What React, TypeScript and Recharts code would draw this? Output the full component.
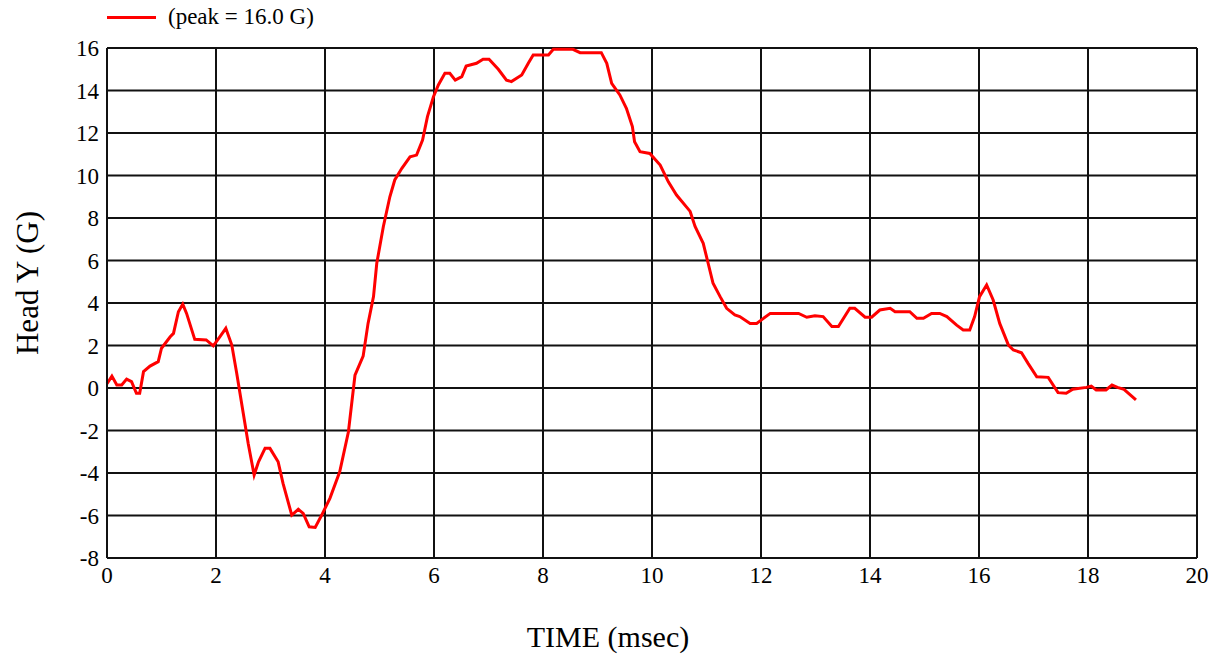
import { LineChart, Line, XAxis, YAxis, CartesianGrid } from "recharts";

const FONT = "'Liberation Serif', 'Times New Roman', serif";

// time (msec)
const timeMs = [
  0, 0.09, 0.18, 0.27, 0.36, 0.45, 0.54, 0.6, 0.67, 0.79, 0.94, 1.0, 1.16, 1.22, 1.31, 1.39, 1.46,
  1.61, 1.82, 1.95, 2.07, 2.18, 2.29, 2.38, 2.5, 2.59, 2.7, 2.78, 2.9, 2.99, 3.14, 3.23, 3.39,
  3.51, 3.6, 3.71, 3.82, 3.94, 4.09, 4.27, 4.43, 4.55, 4.7, 4.79, 4.89, 4.95, 5.07, 5.19, 5.28,
  5.41, 5.56, 5.68, 5.79, 5.88, 5.99, 6.08, 6.2, 6.29, 6.39, 6.51, 6.59, 6.78, 6.9, 7.01, 7.18,
  7.33, 7.42, 7.61, 7.73, 7.82, 8.1, 8.19, 8.55, 8.68, 9.07, 9.17, 9.26, 9.41, 9.53, 9.64, 9.68,
  9.78, 9.96, 10.15, 10.3, 10.45, 10.7, 10.79, 10.94, 11.03, 11.12, 11.25, 11.37, 11.52, 11.61,
  11.8, 11.92, 12.17, 12.69, 12.84, 12.99, 13.14, 13.3, 13.42, 13.63, 13.72, 13.91, 14.03, 14.18,
  14.37, 14.46, 14.73, 14.86, 14.98, 15.13, 15.28, 15.41, 15.59, 15.71, 15.83, 15.92, 16.01,
  16.14, 16.26, 16.38, 16.54, 16.63, 16.78, 16.9, 17.06, 17.27, 17.45, 17.6, 17.72, 17.97, 18.06,
  18.15, 18.33, 18.44, 18.54, 18.66, 18.88,
];

// Head Y acceleration (G)
const headY = [
  0.2, 0.56, 0.14, 0.14, 0.42, 0.3, -0.25, -0.25, 0.77, 1.03, 1.24, 1.87, 2.41, 2.57, 3.59, 3.95, 3.51,
  2.29, 2.26, 1.98, 2.41, 2.81, 2.02, 0.69, -1.19, -2.6, -4.09, -3.47, -2.84, -2.84, -3.47, -4.49, -5.98,
  -5.71, -5.9, -6.53, -6.56, -5.98, -5.19, -3.94, -2.06, 0.6, 1.5, 3.04, 4.3, 5.87, 7.59, 9.0, 9.79,
  10.34, 10.88, 10.96, 11.67, 12.77, 13.71, 14.26, 14.81, 14.81, 14.49, 14.65, 15.15, 15.28, 15.47, 15.47, 15.0,
  14.49, 14.42, 14.73, 15.28, 15.67, 15.67, 15.94, 15.94, 15.78, 15.78, 15.28, 14.34, 13.79, 13.16, 12.3, 11.59,
  11.12, 11.04, 10.49, 9.7, 9.08, 8.31, 7.6, 6.81, 5.87, 4.93, 4.3, 3.75, 3.44, 3.36,
  3.04, 3.04, 3.51, 3.51, 3.33, 3.4, 3.36, 2.89, 2.89, 3.75, 3.75, 3.33, 3.33, 3.67,
  3.75, 3.59, 3.59, 3.28, 3.28, 3.51, 3.51, 3.36, 2.96, 2.73, 2.73, 3.36, 4.3,
  4.85, 4.14, 3.04, 2.02, 1.79, 1.66, 1.16, 0.53, 0.5, -0.22, -0.25, -0.06, 0.03, 0.09,
  -0.09, -0.09, 0.14, 0.03, -0.06, -0.56,
];

const xTicks = [0, 2, 4, 6, 8, 10, 12, 14, 16, 18, 20];
const yTicks = [-8, -6, -4, -2, 0, 2, 4, 6, 8, 10, 12, 14, 16];
const legendText = "(peak = 16.0 G)";

const data = timeMs.map((t, i) => ({ t, y: headY[i] }));

function YTitle(props: any) {
  const vb = props.viewBox;
  const cx = 27;
  const cy = vb.y + vb.height / 2 - 20;
  return (
    <text x={cx} y={cy} transform={`rotate(-90, ${cx}, ${cy})`} textAnchor="middle" dominantBaseline="central"
      fontFamily={FONT} fontSize={31} fill="#000">
      Head Y (G)
    </text>
  );
}

function XTitle() {
  return (
    <text x={608} y={636} textAnchor="middle" dominantBaseline="central" fontFamily={FONT} fontSize={30} fill="#000">
      TIME (msec)
    </text>
  );
}

export default function App() {
  return (
    <div style={{ position: "absolute", left: 0, top: 0, width: 1215, height: 658, background: "#fff" }}>
      {/* legend sits above the plot, outside the chart's own layout */}
      <div style={{ position: "absolute", left: 107, top: 4, display: "flex", alignItems: "center", fontFamily: FONT, fontSize: 23, color: "#000" }}>
        <span style={{ display: "inline-block", width: 49, height: 3, background: "#ff0000", marginRight: 12 }} />
        <span>{legendText}</span>
      </div>
      <LineChart width={1215} height={658} data={data} margin={{ top: 48, right: 18, bottom: 0, left: 0 }}>
        <CartesianGrid stroke="#111" strokeWidth={2} horizontalValues={yTicks} verticalValues={xTicks} />
        <XAxis
          dataKey="t"
          type="number"
          domain={[0, 20]}
          ticks={xTicks}
          height={100}
          tickSize={0}
          tickMargin={9}
          axisLine={{ stroke: "#111", strokeWidth: 2 }}
          tick={{ fontFamily: FONT, fontSize: 23, fill: "#000" }}
          label={<XTitle />}
        />
        <YAxis
          type="number"
          domain={[-8, 16]}
          ticks={yTicks}
          width={107}
          tickSize={0}
          tickMargin={8}
          axisLine={{ stroke: "#111", strokeWidth: 2 }}
          tick={{ fontFamily: FONT, fontSize: 23, fill: "#000" }}
          label={<YTitle />}
        />
        <Line
          type="linear"
          dataKey="y"
          stroke="#ff0000"
          strokeWidth={3}
          dot={false}
          isAnimationActive={false}
        />
      </LineChart>
    </div>
  );
}
